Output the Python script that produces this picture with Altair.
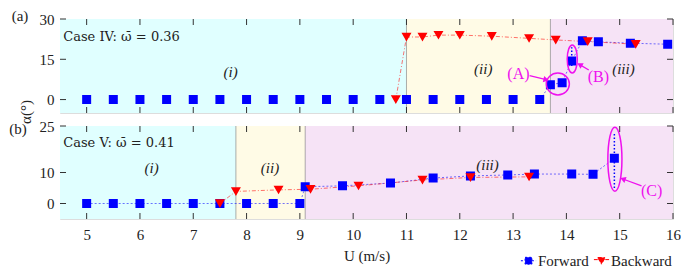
import altair as alt
import pandas as pd

# ---------------- data ----------------
SERIES = ["Forward", "Backward"]
COLORS = ["#0000ff", "#ff0000"]

# Panel (a) Case IV
fa_x = [5, 5.5, 6, 6.5, 7, 7.5, 8, 8.5, 9, 9.5, 10, 10.5, 11, 11.5, 12, 12.5, 13, 13.5,
        13.7, 13.92, 14.1, 14.3, 14.6, 15.2, 15.9]
fa_y = [0, 0, 0, 0, 0, 0, 0, 0, 0, 0, 0, 0, 0, 0, 0, 0, 0, 0,
        5.5, 6.3, 14.4, 21.9, 21.5, 21.0, 20.6]
ba_x = [10.8, 11.0, 11.3, 11.6, 12.0, 12.6, 13.3, 13.8, 14.4, 15.3]
ba_y = [0, 23.3, 23.3, 24.0, 24.0, 23.6, 22.8, 22.2, 21.6, 20.6]
fa_line_from = 13.5          # the forward line is drawn only from here on in (a)
err_a = {"x": [14.1], "lo": [12.5], "hi": [19.5]}

# Panel (b) Case V
fb_x = [5, 5.5, 6, 6.5, 7, 7.5, 8, 8.5, 9, 9.1, 9.8, 10.7, 11.5, 12.2, 12.9, 13.4, 14.1, 14.5, 14.9]
fb_y = [0, 0, 0, 0, 0, 0, 0, 0, 0, 5.4, 5.7, 6.6, 8.2, 8.9, 9.2, 9.5, 9.5, 9.4, 14.6]
bb_x = [7.5, 7.8, 8.6, 9.2, 10.1, 11.3, 12.2, 13.3]
bb_y = [0, 3.9, 4.4, 4.6, 5.7, 7.6, 8.4, 8.6]
err_b = {"x": [14.9], "lo": [5.0], "hi": [23.0]}

x_ticks = [5, 6, 7, 8, 9, 10, 11, 12, 13, 14, 15, 16]
ya_ticks = [0, 15, 30]
yb_ticks = [0, 10, 25]
X_DOMAIN = [4.5, 16]
YA_DOMAIN = [-5, 30]
YB_DOMAIN = [-5, 25]

REG_COLORS = ["#e0ffff", "#fffbe6", "#f6e3f6"]
regions_a = {"x0": [4.5, 11.0, 13.7], "x1": [11.0, 13.7, 16.0], "col": REG_COLORS}
regions_b = {"x0": [4.5, 7.8, 9.1], "x1": [7.8, 9.1, 16.0], "col": REG_COLORS}
bounds_a = [11.0, 13.7]
bounds_b = [7.8, 9.1]

labels_a = {"x": [7.7, 12.44, 15.07], "y": [10.4, 11.2, 11.5], "t": ["(i)", "(ii)", "(iii)"]}
labels_b = {"x": [6.22, 8.44, 12.52], "y": [11.4, 11.4, 12.5], "t": ["(i)", "(ii)", "(iii)"]}
case_a = {"x": [4.56], "y": [23.4], "t": ["Case IV: \u03c9\u0304 = 0.36"]}
case_b = {"x": [4.56], "y": [19.4], "t": ["Case V: \u03c9\u0304 = 0.41"]}

# magenta annotations
ann_a = {"x": [13.1, 14.6], "y": [9.5, 8.5], "t": ["(A)", "(B)"]}
ann_b = {"x": [15.6], "y": [3.9], "t": ["(C)"]}
arrows_a = {"x": [13.31, 14.42], "y": [8.9, 11.0], "x2": [13.62, 14.25], "y2": [7.4, 13.0], "ang": [13, 210]}
arrows_b = {"x": [15.41], "y": [5.7], "x2": [15.06], "y2": [7.9], "ang": [200]}
# ellipses: centre, relative radii, symbol size
ell_a = {"x": [13.84, 14.11], "y": [5.8, 15.1], "rx": [1.0, 0.36], "ry": [0.95, 1.0], "size": [529, 784]}
ell_b = {"x": [14.91], "y": [14.3], "rx": [0.22], "ry": [1.0], "size": [4100]}

W = 613
HA = 94
HB = 93
TICK = 6
FONT = "Liberation Serif"
CASE_FONT = "DejaVu Serif"
FS = 15
MAGENTA = "#ee10ee"
TICK_COLOR = "#333"

SQ = "M-1,0H-0.45M-0.45,-0.45H0.45V0.45H-0.45ZM0.45,0H1"
TRI = "M-1,-0.15H-0.5M-0.5,-0.42L0.5,-0.42L0,0.45ZM0.5,-0.15H1"


def ellipse_path(rx, ry):
    return (f"M{-rx},0A{rx},{ry} 0 1,0 {rx},0A{rx},{ry} 0 1,0 {-rx},0Z")


def series_df(fx, fy, bx, by):
    return pd.DataFrame({
        "x": list(fx) + list(bx),
        "y": list(fy) + list(by),
        "series": ["Forward"] * len(fx) + ["Backward"] * len(bx),
    })


def panel(fx, fy, bx, by, line_from, err, regions, bounds, labels, case, ann, arrows, ell,
          ydom, yticks, height, show_xlabels, outer):
    xs = alt.Scale(domain=X_DOMAIN, nice=False, zero=False)
    ys = alt.Scale(domain=ydom, nice=False, zero=False)
    cscale = alt.Scale(domain=SERIES, range=COLORS)

    pts = series_df(fx, fy, bx, by)
    ln = pts[(pts.series == "Backward") | (pts.x >= line_from)]

    XA = alt.Axis(values=x_ticks, labels=show_xlabels, ticks=False,
                  domain=False, grid=False, labelPadding=8,
                  title="U (m/s)" if show_xlabels else None,
                  labelFont=FONT, labelFontSize=FS, labelColor="#222",
                  titleFont=FONT, titleFontSize=FS, titleFontWeight="normal",
                  titleColor="#222", titlePadding=6, labelFlush=False)
    YA = alt.Axis(values=yticks, ticks=False, domain=False, grid=False,
                  labelPadding=6, title=None, labelFont=FONT, labelFontSize=FS,
                  labelColor="#222", labelFlush=False)

    def X(field):
        return alt.X(field, scale=xs, axis=XA)

    def Y(field):
        return alt.Y(field, scale=ys, axis=YA)

    rdf = pd.DataFrame(regions)
    rects = alt.Chart(rdf).mark_rect().encode(
        x=X("x0:Q"),
        x2="x1:Q",
        y=alt.value(0), y2=alt.value(height),
        fill=alt.Fill("col:N", scale=None),
    )
    bnd = alt.Chart(pd.DataFrame({"x": bounds})).mark_rule(color="#777", strokeWidth=1, opacity=0.6).encode(
        x=X("x:Q"),
        y=alt.value(0), y2=alt.value(height),
    )
    # inward tick marks on all four sides
    xt = pd.DataFrame({"x": x_ticks})
    yt = pd.DataFrame({"y": yticks})
    xt_top = alt.Chart(xt).mark_rule(color=TICK_COLOR, strokeWidth=1).encode(
        x=X("x:Q"), y=alt.value(0), y2=alt.value(TICK))
    xt_bot = alt.Chart(xt).mark_rule(color=TICK_COLOR, strokeWidth=1).encode(
        x=X("x:Q"), y=alt.value(height - TICK), y2=alt.value(height))
    yt_left = alt.Chart(yt).mark_rule(color=TICK_COLOR, strokeWidth=1).encode(
        y=Y("y:Q"), x=alt.value(0), x2=alt.value(TICK))
    yt_right = alt.Chart(yt).mark_rule(color=TICK_COLOR, strokeWidth=1).encode(
        y=Y("y:Q"), x=alt.value(W - TICK), x2=alt.value(W))

    lines = alt.Chart(ln).mark_line(strokeWidth=1, opacity=0.55).encode(
        x=X("x:Q"),
        y=Y("y:Q"),
        stroke=alt.Stroke("series:N", scale=cscale, legend=None),
        strokeDash=alt.StrokeDash("series:N", scale=alt.Scale(domain=SERIES, range=[[2, 2], [4, 2, 1, 2]]),
                                  legend=None),
        detail="series:N",
    )
    edf = pd.DataFrame(err)
    errs = alt.Chart(edf).mark_rule(color="#0000ff", strokeWidth=1.5, strokeDash=[1.5, 2]).encode(
        x=X("x:Q"),
        y=Y("lo:Q"),
        y2="hi:Q",
    )
    leg = alt.Legend(title=None, orient="none", legendX=460, legendY=233, direction="horizontal",
                     labelFont=FONT, labelFontSize=FS, labelColor="#222", symbolSize=230,
                     symbolStrokeWidth=1, columnPadding=2, labelOffset=1)
    points = alt.Chart(pts).mark_point(filled=True, size=400, opacity=1, strokeWidth=0).encode(
        x=X("x:Q"),
        y=Y("y:Q"),
        fill=alt.Fill("series:N", scale=cscale, legend=leg),
        shape=alt.Shape("series:N", scale=alt.Scale(domain=SERIES, range=[SQ, TRI]), legend=leg),
    )
    el = pd.DataFrame(ell)
    el["path"] = [ellipse_path(a, b) for a, b in zip(el.rx, el.ry)]
    ellipses = alt.Chart(el).mark_point(filled=False, color=MAGENTA, strokeWidth=1.5, opacity=1).encode(
        x=X("x:Q"),
        y=Y("y:Q"),
        shape=alt.Shape("path:N", scale=None),
        size=alt.Size("size:Q", scale=None),
    )
    adf = pd.DataFrame(arrows)
    shafts = alt.Chart(adf).mark_rule(color=MAGENTA, strokeWidth=1.3).encode(
        x=X("x:Q"),
        y=Y("y:Q"),
        x2="x2:Q", y2="y2:Q",
    )
    heads = alt.Chart(adf).mark_point(shape="triangle-right", filled=True, color=MAGENTA, size=40,
                                      opacity=1).encode(
        x=X("x2:Q"),
        y=Y("y2:Q"),
        angle=alt.Angle("ang:Q", scale=None),
    )
    ann_t = alt.Chart(pd.DataFrame(ann)).mark_text(font=FONT, fontSize=16, color=MAGENTA).encode(
        x=X("x:Q"),
        y=Y("y:Q"),
        text="t:N",
    )
    reg_t = alt.Chart(pd.DataFrame(labels)).mark_text(font=FONT, fontSize=FS, fontStyle="italic",
                                                      color="#222").encode(
        x=X("x:Q"),
        y=Y("y:Q"),
        text="t:N",
    )
    case_t = alt.Chart(pd.DataFrame(case)).mark_text(font=CASE_FONT, fontSize=13, align="left",
                                                     color="#222").encode(
        x=X("x:Q"),
        y=Y("y:Q"),
        text="t:N",
    )
    out_t = alt.Chart(pd.DataFrame(outer)).mark_text(font=FONT, fontSize=FS, color="#222").encode(
        x=alt.X("px:Q", scale=None),
        y=alt.Y("py:Q", scale=None),
        text="t:N",
        angle=alt.Angle("ang:Q", scale=None),
    )
    return alt.layer(rects, bnd, lines, errs, points, ellipses, shafts, heads, ann_t, reg_t,
                     case_t, xt_top, xt_bot, yt_left, yt_right, out_t).properties(
        width=W, height=height)


outer_a = {"px": [-40, -34], "py": [-3, 93], "t": ["(a)", "\u03b1(\u00b0)"], "ang": [0, 270]}
outer_b = {"px": [-42], "py": [3], "t": ["(b)"], "ang": [0]}

pa = panel(fa_x, fa_y, ba_x, ba_y, fa_line_from, err_a, regions_a, bounds_a, labels_a, case_a,
           ann_a, arrows_a, ell_a, YA_DOMAIN, ya_ticks, HA, False, outer_a)
pb = panel(fb_x, fb_y, bb_x, bb_y, 0, err_b, regions_b, bounds_b, labels_b, case_b,
           ann_b, arrows_b, ell_b, YB_DOMAIN, yb_ticks, HB, True, outer_b)

chart = alt.vconcat(pa, pb, spacing=13, bounds="flush").properties(padding=0).configure_view(
    stroke="#444", strokeWidth=1
).configure(background="white")

chart.save("out.html", embed_options={"renderer": "svg", "actions": False})
